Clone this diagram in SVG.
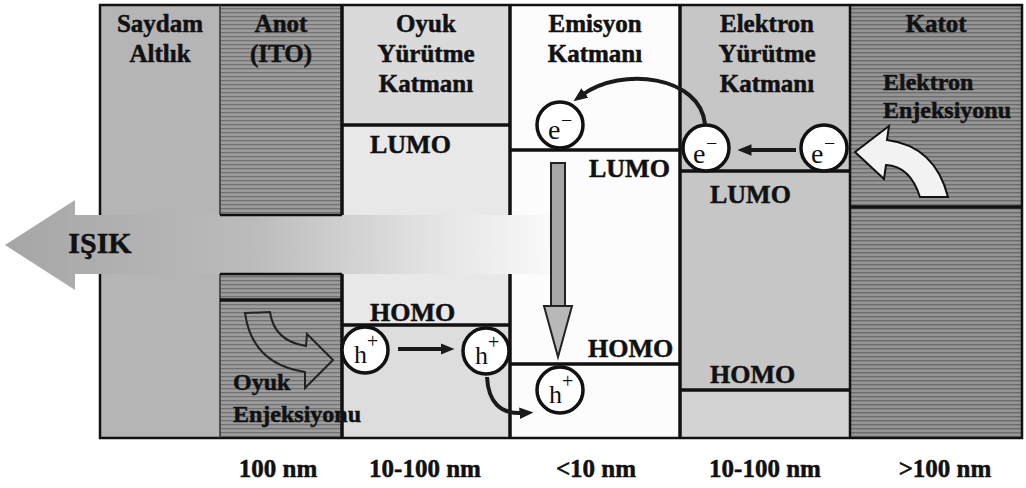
<svg xmlns="http://www.w3.org/2000/svg" width="1026" height="488" viewBox="0 0 1026 488" font-family="Liberation Serif, Times New Roman, serif">
<defs>
<style>
.t{font-weight:bold;fill:#111;stroke:#111;stroke-width:0.5;}
.h{font-size:25px;text-anchor:middle;}
.lv{font-size:26px;}
.small{font-size:24px;}
.lvl{stroke:#111;stroke-width:3.5;fill:none;}
.edge{stroke:#111;stroke-width:2.5;fill:none;}
.thin{stroke:#333;stroke-width:1.5;fill:none;}
.pc{fill:#fff;stroke:#111;stroke-width:3.5;}
.pt{font-size:28px;fill:#111;}
.sup{font-size:20px;}
.conn{fill:none;stroke:#1a1a1a;stroke-width:4;}
</style>
<pattern id="hl1" width="6" height="4" patternUnits="userSpaceOnUse"><rect width="6" height="4" fill="#9c9c9c"/><rect width="6" height="1.3" fill="#727272"/></pattern>
<pattern id="hl2" width="6" height="4" patternUnits="userSpaceOnUse"><rect width="6" height="4" fill="#959595"/><rect width="6" height="1.4" fill="#6c6c6c"/></pattern>
<linearGradient id="band" x1="5" y1="0" x2="566" y2="0" gradientUnits="userSpaceOnUse">
<stop offset="0" stop-color="#a6a6a6"/><stop offset="0.45" stop-color="#bcbcbc"/><stop offset="0.75" stop-color="#e2e2e2"/><stop offset="1" stop-color="#fcfcfc"/>
</linearGradient>
<marker id="ah" viewBox="0 0 12 10" refX="3" refY="5" markerWidth="14" markerHeight="12" markerUnits="userSpaceOnUse" orient="auto"><path d="M0,0 L12,5 L0,10 z" fill="#1a1a1a"/></marker>
</defs>
<rect width="1026" height="488" fill="#fff"/>

<g id="substrate">
<rect x="100" y="5" width="120" height="210" fill="#b5b5b5"/>
<rect x="100" y="274" width="120" height="164" fill="#b5b5b5"/>
</g>
<g id="anode">
<rect x="220" y="5" width="122" height="210" fill="url(#hl1)"/>
<rect x="220" y="274" width="122" height="164" fill="url(#hl1)"/>
</g>
<g id="htl">
<rect x="342" y="5" width="168" height="120" fill="#dadada"/>
<rect x="342" y="125" width="168" height="200" fill="#e8e8e8"/>
<rect x="342" y="325" width="168" height="113" fill="#dddddd"/>
</g>
<g id="eml">
<rect x="510" y="5" width="170" height="433" fill="#fcfcfc"/>
</g>
<g id="etl">
<rect x="680" y="5" width="170" height="385" fill="#c6c6c6"/>
<rect x="680" y="390" width="170" height="48" fill="#d3d3d3"/>
</g>
<g id="cathode">
<rect x="850" y="5" width="172" height="433" fill="url(#hl2)"/>
</g>

<g id="light">
<path d="M5 245 L75 200 L75 215 L566 215 L566 274 L75 274 L75 290 Z" fill="url(#band)"/>
<text class="t" x="100" y="253" font-size="30" text-anchor="middle">IŞIK</text>
</g>

<g id="edges">
<path class="edge" d="M100 215 V5 H1022 V438 H100 V274"/>
<path class="thin" d="M220 5 V215 M220 274 V438"/>
<path class="edge" d="M220 215 H342 M220 274 H342"/>
<path class="lvl" d="M342 5 V215 M342 274 V438 M510 5 V215 M510 274 V438 M680 5 V438"/>
<path class="edge" d="M850 5 V438"/>
</g>

<g id="levels">
<path class="lvl" d="M220 300 H342"/>
<path class="lvl" d="M342 125 H510"/>
<path class="lvl" d="M510 150 H680"/>
<path class="lvl" d="M680 171 H850"/>
<path class="lvl" d="M850 207 H1022"/>
<path class="lvl" d="M342 325 H510"/>
<path class="lvl" d="M510 364 H680"/>
<path class="lvl" d="M680 390 H850"/>
</g>

<g id="labels">
<text class="t h" x="160" y="32">Saydam</text>
<text class="t h" x="160" y="62">Altlık</text>
<text class="t h" x="281" y="32">Anot</text>
<text class="t h" x="281" y="62">(ITO)</text>
<text class="t h" x="426" y="32">Oyuk</text>
<text class="t h" x="426" y="62">Yürütme</text>
<text class="t h" x="426" y="92">Katmanı</text>
<text class="t h" x="595" y="32">Emisyon</text>
<text class="t h" x="595" y="62">Katmanı</text>
<text class="t h" x="767" y="32">Elektron</text>
<text class="t h" x="767" y="62">Yürütme</text>
<text class="t h" x="767" y="92">Katmanı</text>
<text class="t h" x="936" y="32">Katot</text>
<text class="t lv" x="370" y="153">LUMO</text>
<text class="t lv" x="589" y="177">LUMO</text>
<text class="t lv" x="710" y="203">LUMO</text>
<text class="t lv" x="370" y="321">HOMO</text>
<text class="t lv" x="588" y="357">HOMO</text>
<text class="t lv" x="710" y="383">HOMO</text>
<text class="t small" x="883" y="90">Elektron</text>
<text class="t small" x="883" y="118">Enjeksiyonu</text>
<text class="t small" x="233" y="390">Oyuk</text>
<text class="t small" x="233" y="422">Enjeksiyonu</text>
<text class="t h" x="278" y="477">100 nm</text>
<text class="t h" x="425" y="477">10-100 nm</text>
<text class="t h" x="596" y="477">&lt;10 nm</text>
<text class="t h" x="765" y="477">10-100 nm</text>
<text class="t h" x="945" y="477">&gt;100 nm</text>
</g>

<g id="electron-eml">
<circle class="pc" cx="560" cy="125" r="23"/>
<text class="pt"><tspan x="548" y="139">e</tspan><tspan class="sup" x="561" y="127">−</tspan></text>
</g>
<g id="electron-etl-1">
<circle class="pc" cx="706" cy="148" r="23"/>
<text class="pt"><tspan x="693" y="163">e</tspan><tspan class="sup" x="706" y="150">−</tspan></text>
</g>
<g id="electron-etl-2">
<circle class="pc" cx="824" cy="148" r="23"/>
<text class="pt"><tspan x="811" y="163">e</tspan><tspan class="sup" x="824" y="150">−</tspan></text>
</g>
<g id="hole-htl-1">
<circle class="pc" cx="365" cy="350" r="23"/>
<text class="pt"><tspan x="354" y="363" font-size="26">h</tspan><tspan class="sup" x="367" y="348">+</tspan></text>
</g>
<g id="hole-htl-2">
<circle class="pc" cx="486" cy="351" r="23"/>
<text class="pt"><tspan x="475" y="364" font-size="26">h</tspan><tspan class="sup" x="488" y="349">+</tspan></text>
</g>
<g id="hole-eml">
<circle class="pc" cx="560" cy="390" r="23"/>
<text class="pt"><tspan x="549" y="403" font-size="26">h</tspan><tspan class="sup" x="562" y="388">+</tspan></text>
</g>

<g id="connectors">
<path class="conn" d="M705 124 C700 76 622 66 582 95" marker-end="url(#ah)"/>
<path class="conn" d="M796 150 H748" marker-end="url(#ah)"/>
<path class="conn" d="M398 349 H444" marker-end="url(#ah)"/>
<path class="conn" d="M487 377 Q489 415 523 413" marker-end="url(#ah)"/>
<rect x="551" y="163" width="14" height="144" fill="#a6a6a6" stroke="#222" stroke-width="2"/>
<path d="M544 306 L572 306 L558 357 Z" fill="#b8b8b8" stroke="#222" stroke-width="2"/>
<path d="M855 152 L889 126 L887 140 Q935 146 948 197 L920 197 Q910 166 886 165 L884 179 Z" fill="#f2f2f2" stroke="#111" stroke-width="2"/>
<path d="M245 313 L270 312 Q274 341 306 346 L307 334 L333 360 L305 388 L305 372 Q252 364 245 313 Z" fill="none" stroke="#222" stroke-width="2"/>
</g>
</svg>
